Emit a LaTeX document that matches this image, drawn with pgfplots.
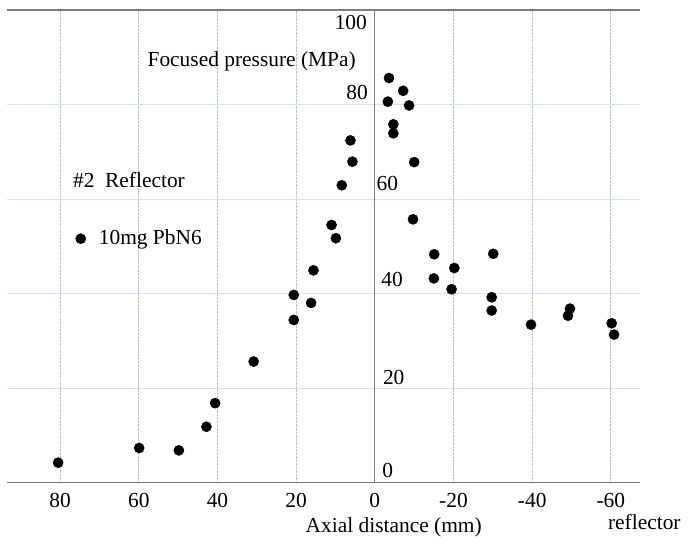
\documentclass[border=0pt]{standalone}
\usepackage{pgfplots}
\pgfplotsset{compat=1.18}
\usepackage{fontspec}
\setmainfont{Liberation Serif}
\definecolor{axgray}{RGB}{125,125,125}
\definecolor{vgrid}{RGB}{165,195,225}
\definecolor{hgrid}{RGB}{210,226,240}
\begin{document}
\fontsize{21.5}{25}\selectfont
\begin{tikzpicture}
\begin{axis}[
  scale only axis, width=633bp, height=472.5bp,
  x dir=reverse, xmin=-67.4, xmax=93.5, ymin=0, ymax=100,
  axis x line=box, axis y line=middle,
  axis line style={axgray, line width=1.1pt},
  y axis line style={-},
  xtick={-60,-40,-20,0,20,40,60,80},
  xticklabels={-60,-40,-20,0,20,40,60,80},
  ytick={20,40,60,80}, yticklabels={},
  major tick length=0pt,
  xmajorgrids, ymajorgrids,
  x grid style={vgrid, densely dotted, line width=0.8pt},
  y grid style={hgrid, line width=0.8pt},
  xticklabel style={inner sep=0pt, yshift=-11bp, font=\fontsize{21.5}{25}\selectfont},
  clip=false,
  legend style={draw=none, fill=none, inner sep=0pt, at={(axis cs:76.1,51.6)}, anchor=west, font=\fontsize{21.5}{25}\selectfont,
    /tikz/every odd column/.append style={column sep=11bp}},
]
\addplot[only marks, mark=*, mark size=5.1bp, black] table {
x y
80.5 4.2
59.9 7.3
49.8 6.8
42.8 11.8
40.6 16.8
30.8 25.6
20.6 39.7
20.6 34.4
16.2 38.0
15.6 44.9
11.0 54.5
9.9 51.7
8.4 62.9
6.2 72.4
5.7 67.9
-3.6 85.6
-3.3 80.6
-4.7 75.8
-4.7 73.9
-7.2 82.9
-8.7 79.8
-10.0 67.8
-9.7 55.7
-15.1 48.3
-15.0 43.2
-20.2 45.4
-19.5 40.9
-30.1 48.4
-29.7 39.2
-29.7 36.4
-39.7 33.4
-49.6 36.8
-49.1 35.3
-60.2 33.7
-60.8 31.3
};
\addlegendentry{10mg PbN6}
\node at (axis cs:6.1,97.3) {100};
\node at (axis cs:4.5,82.5) {80};
\node at (axis cs:-3.2,63.3) {60};
\node at (axis cs:-4.4,43.0) {40};
\node at (axis cs:-4.8,22.3) {20};
\node at (axis cs:-3.3,2.5) {0};
\node at (axis cs:31.3,89.1) {Focused pressure (MPa)};
\node at (axis cs:62.5,64.1) {\#2\ \ Reflector};
\node at (axis cs:-4.8,-9.4) {Axial distance (mm)};
\node[inner sep=0pt] at (axis cs:-68.5,-8.4) {reflector};
\end{axis}
\path[use as bounding box] ([xshift=-7bp,yshift=-55.5bp]current axis.south west) rectangle ([xshift=48bp,yshift=10bp]current axis.north east);
\end{tikzpicture}
\end{document}
